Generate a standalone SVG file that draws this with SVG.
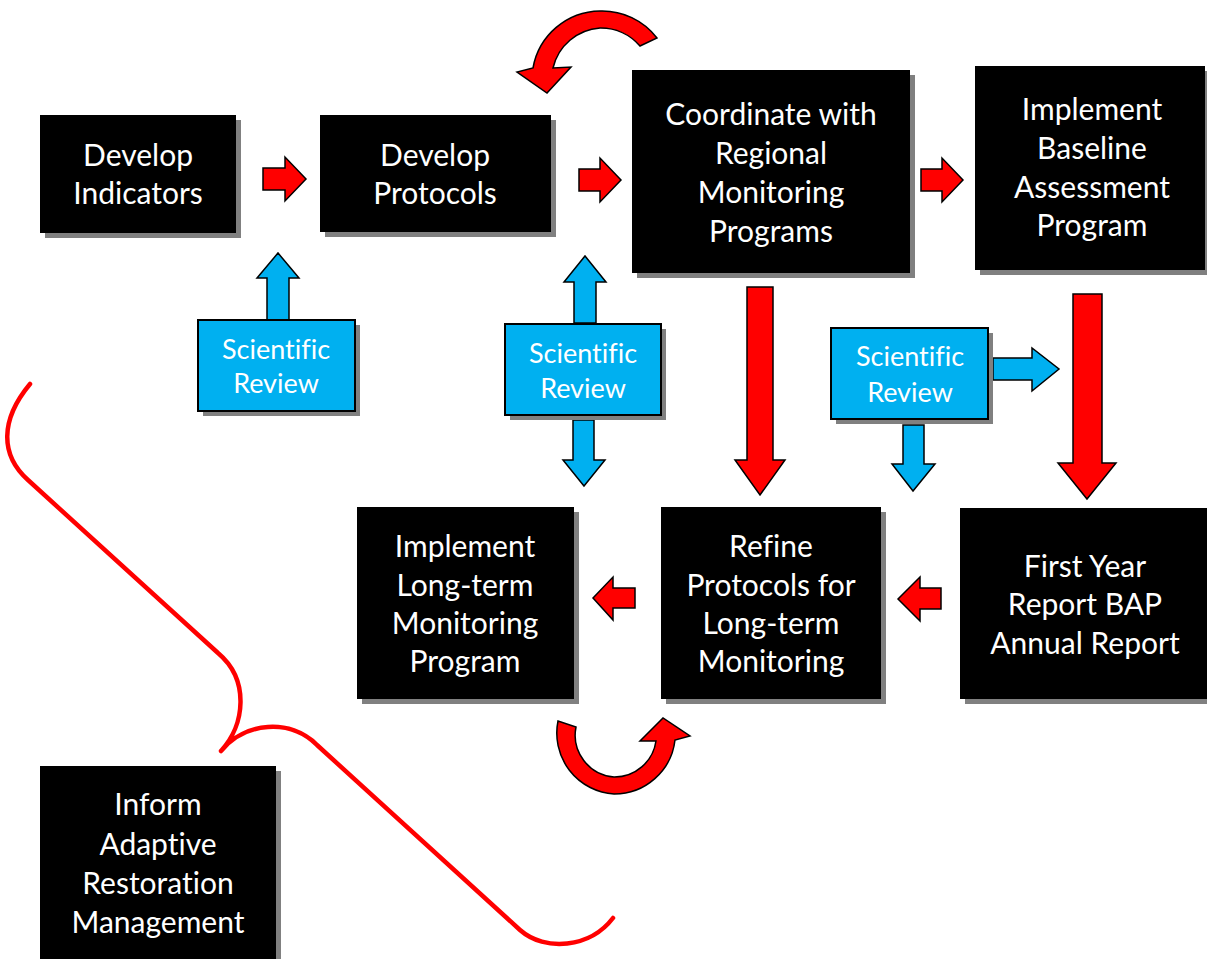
<svg xmlns="http://www.w3.org/2000/svg" width="1207" height="959" viewBox="0 0 1207 959">
<style>
.box{fill:#000}
.sh{fill:#808080}
.sr{fill:#00B0F0;stroke:#000;stroke-width:2}
.t{font-family:Lato,"Liberation Sans",sans-serif;font-size:30px;fill:#fff;text-anchor:middle;font-variant-ligatures:none;font-feature-settings:"liga" 0,"clig" 0}
.ts{font-family:Lato,"Liberation Sans",sans-serif;font-size:27px;fill:#fff;text-anchor:middle;font-variant-ligatures:none;font-feature-settings:"liga" 0,"clig" 0}
.ra{fill:#FF0000;stroke:#000;stroke-width:1.5;stroke-linejoin:miter}
.ba{fill:#00B0F0;stroke:#000;stroke-width:1.5}
.brace{fill:none;stroke:#FF0000;stroke-width:4.5;stroke-linecap:round;stroke-linejoin:round}
</style>
<rect width="1207" height="959" fill="#fff"/>
<g id="connectors">
<path class="ra" d="M263,168 H285 V157 L306,179 L285,201 V190 H263 Z"/>
<path class="ra" d="M579,169 H600 V158 L621,180 L600,202 V191 H579 Z"/>
<path class="ra" d="M921,169 H942 V158 L963,180 L942,202 V191 H921 Z"/>
<path class="ra" d="M635,588 H613 V577 L593,598 L613,620 V608 H635 Z"/>
<path class="ra" d="M941,588 H920 V577 L898,599 L920,621 V609 H941 Z"/>
<path class="ra" d="M747,287 H773 V460 H785 L760,495 L735,460 H747 Z"/>
<path class="ra" d="M1073,294 H1102 V463 H1116 L1087,499 L1058,463 H1073 Z"/>
<path class="ba" d="M267,320 V278 H257 L278,253 L299,278 H289 V320 Z"/>
<path class="ba" d="M574,323 V282 H564 L585,256 L606,282 H596 V323 Z"/>
<path class="ba" d="M573,420 V460 H563 L584,486 L605,460 H594 V420 Z"/>
<path class="ba" d="M903,425 V464 H892 L913,491 L935,464 H924 V425 Z"/>
<path class="ba" d="M993,358 H1032 V348 L1059,369 L1032,391 V380 H993 Z"/>
<path class="ra" d="M657,38 A69,69 0 0 0 600,11 A69,69 0 0 0 533,68 L517,72 L547,93 L571,67 L553,68 A52,52 0 0 1 600,28 A52,52 0 0 1 640,46 Z"/>
<path class="ra" d="M558,721 A61,61 0 0 0 614,794 A61,61 0 0 0 675,740 L690,736 L663,718 L640,741 L656,741 A42,42 0 0 1 614,777 A42,42 0 0 1 576,727 Z"/>
<path class="brace" d="M30,384 C0,420 0,455 28,480 L218,653 C250,680 245,725 221,751 C245,722 290,718 317,745 L520,930 C545,952 590,948 613,918"/>
</g>
<g id="n1"><rect class="sh" x="45" y="120" width="196" height="118"/><rect class="box" x="40" y="115" width="196" height="118"/>
<text class="t" x="138" y="166">Develop</text><text class="t" x="138" y="204">Indicators</text></g>
<g id="n2"><rect class="sh" x="325" y="120" width="231" height="117"/><rect class="box" x="320" y="115" width="231" height="117"/>
<text class="t" x="435" y="166">Develop</text><text class="t" x="435" y="204">Protocols</text></g>
<g id="n3"><rect class="sh" x="637" y="75" width="278" height="203"/><rect class="box" x="632" y="70" width="278" height="203"/>
<text class="t" x="771" y="125">Coordinate with</text><text class="t" x="771" y="164">Regional</text><text class="t" x="771" y="203">Monitoring</text><text class="t" x="771" y="242">Programs</text></g>
<g id="n4"><rect class="sh" x="980" y="71" width="230" height="204"/><rect class="box" x="975" y="66" width="230" height="204"/>
<text class="t" x="1092" y="120">Implement</text><text class="t" x="1092" y="159">Baseline</text><text class="t" x="1092" y="198">Assessment</text><text class="t" x="1092" y="236">Program</text></g>
<g id="n5"><rect class="sh" x="362" y="512" width="217" height="192"/><rect class="box" x="357" y="507" width="217" height="192"/>
<text class="t" x="465" y="557">Implement</text><text class="t" x="465" y="596">Long-term</text><text class="t" x="465" y="634">Monitoring</text><text class="t" x="465" y="672">Program</text></g>
<g id="n6"><rect class="sh" x="666" y="512" width="220" height="192"/><rect class="box" x="661" y="507" width="220" height="192"/>
<text class="t" x="771" y="557">Refine</text><text class="t" x="771" y="596">Protocols for</text><text class="t" x="771" y="634">Long-term</text><text class="t" x="771" y="672">Monitoring</text></g>
<g id="n7"><rect class="sh" x="965" y="513" width="250" height="191"/><rect class="box" x="960" y="508" width="250" height="191"/>
<text class="t" x="1085" y="577">First Year</text><text class="t" x="1085" y="615">Report BAP</text><text class="t" x="1085" y="654">Annual Report</text></g>
<g id="n8"><rect class="sh" x="45" y="771" width="236" height="200"/><rect class="box" x="40" y="766" width="236" height="200"/>
<text class="t" x="158" y="815">Inform</text><text class="t" x="158" y="855">Adaptive</text><text class="t" x="158" y="894">Restoration</text><text class="t" x="158" y="933">Management</text></g>
<g id="sr1"><rect class="sh" x="203" y="325" width="157" height="91"/><rect class="sr" x="198" y="320" width="157" height="91"/>
<text class="ts" x="276" y="359">Scientific</text><text class="ts" x="276" y="393">Review</text></g>
<g id="sr2"><rect class="sh" x="510" y="329" width="156" height="91"/><rect class="sr" x="505" y="324" width="156" height="91"/>
<text class="ts" x="583" y="363">Scientific</text><text class="ts" x="583" y="398">Review</text></g>
<g id="sr3"><rect class="sh" x="836" y="333" width="157" height="91"/><rect class="sr" x="831" y="328" width="157" height="91"/>
<text class="ts" x="910" y="366">Scientific</text><text class="ts" x="910" y="402">Review</text></g>
</svg>
